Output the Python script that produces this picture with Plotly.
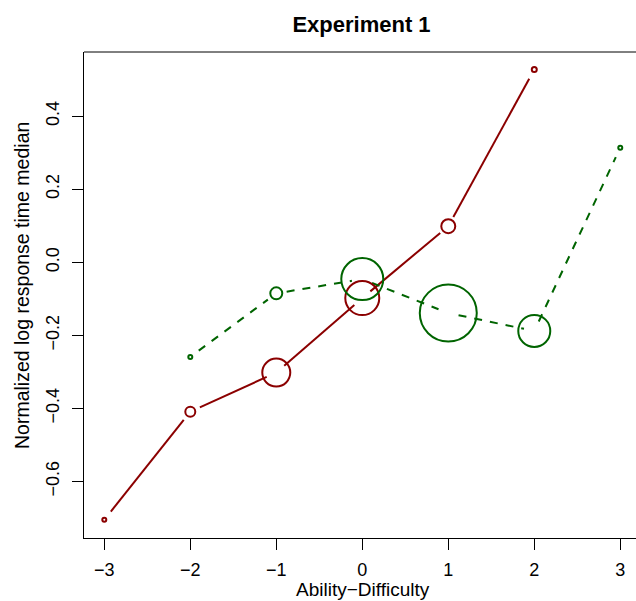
import plotly.graph_objects as go

# ---- data ----
red_x = [-3, -2, -1, 0, 1, 2]
red_y = [-0.705, -0.409, -0.302, -0.098, 0.099, 0.528]
red_size = [4, 10, 28, 34, 14, 5]

green_x = [-2, -1, 0, 1, 2, 3]
green_y = [-0.259, -0.085, -0.046, -0.139, -0.188, 0.314]
green_size = [4, 12, 42, 57, 32, 4]

x_ticks = [-3, -2, -1, 0, 1, 2, 3]
y_ticks = [-0.6, -0.4, -0.2, 0.0, 0.2, 0.4]

title = "Experiment 1"
x_title = "Ability\u2212Difficulty"
y_title = "Normalized log response time median"

RED = "#8B0000"
GREEN = "#006400"
FONT = "Liberation Sans, Arial, Helvetica, sans-serif"

W, H = 636, 601
ML, MR, MT, MB = 84, 0, 52, 63
XR = [-3.236, 3.183]
YR = [-0.755, 0.576]
PW = W - ML - MR
PH = H - MT - MB
sx = PW / (XR[1] - XR[0])
sy = PH / (YR[1] - YR[0])
GAP = 10.5  # px gap between line and point (R type="b")


def gapped(xs, ys):
    ox, oy = [], []
    for i in range(len(xs) - 1):
        dx = (xs[i + 1] - xs[i]) * sx
        dy = (ys[i + 1] - ys[i]) * sy
        d = (dx * dx + dy * dy) ** 0.5
        if d <= 2 * GAP:
            continue
        f = GAP / d
        ox += [xs[i] + (xs[i + 1] - xs[i]) * f, xs[i + 1] - (xs[i + 1] - xs[i]) * f, None]
        oy += [ys[i] + (ys[i + 1] - ys[i]) * f, ys[i + 1] - (ys[i + 1] - ys[i]) * f, None]
    return ox, oy


fig = go.Figure()
rx, ry = gapped(red_x, red_y)
gx, gy = gapped(green_x, green_y)
fig.add_trace(go.Scatter(x=rx, y=ry, mode="lines", line=dict(color=RED, width=2),
                         hoverinfo="skip", showlegend=False))
fig.add_trace(go.Scatter(x=gx, y=gy, mode="lines", line=dict(color=GREEN, width=2, dash="8px,8px"),
                         hoverinfo="skip", showlegend=False))
fig.add_trace(go.Scatter(x=red_x, y=red_y, mode="markers",
                         marker=dict(symbol="circle-open", size=red_size, color=RED, opacity=1,
                                     line=dict(color=RED, width=2)), showlegend=False))
fig.add_trace(go.Scatter(x=green_x, y=green_y, mode="markers",
                         marker=dict(symbol="circle-open", size=green_size, color=GREEN, opacity=1,
                                     line=dict(color=GREEN, width=2)), showlegend=False))

fig.update_layout(
    template="none",
    width=W, height=H,
    margin=dict(l=ML, r=MR, t=MT, b=MB, pad=0, autoexpand=False),
    paper_bgcolor="white", plot_bgcolor="white",
    font=dict(family=FONT, size=18, color="black"),
    title=dict(text="<b>" + title + "</b>", font=dict(size=22, family=FONT, color="black"),
               x=361.5 / W, xref="container", xanchor="center",
               y=1 - 24 / H, yref="container", yanchor="middle"),
    xaxis=dict(range=XR, tickvals=x_ticks, automargin=False,
               ticktext=[str(v).replace("-", "\u2212") for v in x_ticks],
               showgrid=False, zeroline=False, showline=True, linecolor="black", linewidth=1,
               ticks="outside", ticklen=11, tickcolor="black", tickwidth=1,
               tickfont=dict(size=18), ticklabelstandoff=4),
    yaxis=dict(range=YR, tickvals=y_ticks, automargin=False,
               ticktext=[f"{v:.1f}".replace("-", "\u2212") for v in y_ticks],
               showgrid=False, zeroline=False, showline=True, linecolor="black", linewidth=1,
               ticks="outside", ticklen=11, tickcolor="black", tickwidth=1,
               tickfont=dict(size=18), tickangle=-90, ticklabelstandoff=6),
    shapes=[dict(type="line", xref="paper", yref="paper", x0=0, x1=1, y0=1, y1=1,
                 line=dict(color="black", width=1))],
    annotations=[
        dict(text=x_title, xref="paper", yref="paper", x=(363 - ML) / PW, y=0,
             yshift=-51, xanchor="center", yanchor="middle", showarrow=False,
             font=dict(size=19)),
        dict(text=y_title, xref="paper", yref="paper", x=0, y=(H - MB - 286) / PH, xshift=-62,
             xanchor="center", yanchor="middle", textangle=-90, showarrow=False,
             font=dict(size=19.5)),
    ],
)

fig.write_html("out.html",
               config={"displayModeBar": False},
               post_script="document.body.style.margin='0';document.body.style.overflow='hidden';")
